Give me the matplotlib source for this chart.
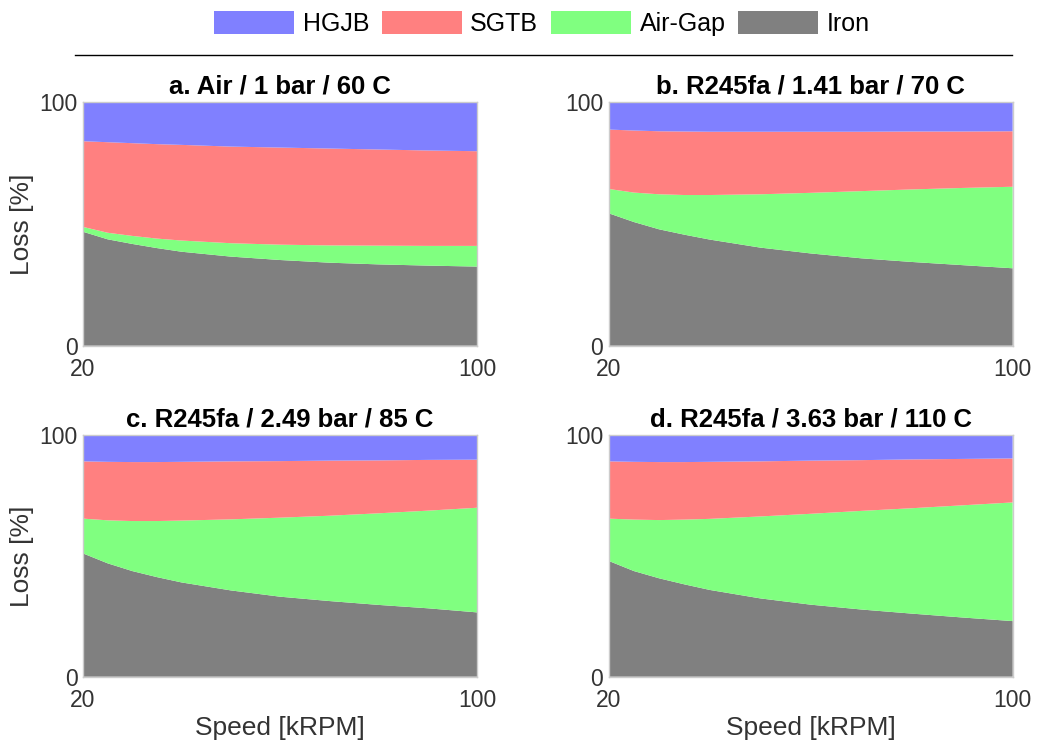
import matplotlib
matplotlib.use("Agg")
import matplotlib.pyplot as plt
from matplotlib.patches import Patch
from matplotlib.lines import Line2D

plt.rcParams['font.family'] = ['Liberation Sans', 'DejaVu Sans']

# speed points [kRPM]
speed = [20, 25, 30, 35, 40, 50, 60, 70, 80, 90, 100]

labels = ['HGJB', 'SGTB', 'Air-Gap', 'Iron']
colors = ['#8080ff', '#ff8080', '#80ff80', '#808080']

titles = ['a. Air / 1 bar / 60 C',
          'b. R245fa / 1.41 bar / 70 C',
          'c. R245fa / 2.49 bar / 85 C',
          'd. R245fa / 3.63 bar / 110 C']

# loss shares [%] per case
iron_a = [46.8, 43.7, 41.8, 40.1, 38.6, 36.6, 35.2, 34.1, 33.4, 32.9, 32.5]
gap_a = [2.0, 2.7, 3.3, 3.9, 4.6, 5.5, 6.3, 7.1, 7.7, 8.1, 8.5]
sgtb_a = [35.2, 37.2, 38.1, 38.8, 39.3, 39.7, 39.9, 39.8, 39.5, 39.2, 38.9]
hgjb_a = [16.0, 16.4, 16.8, 17.2, 17.5, 18.2, 18.6, 19.0, 19.4, 19.8, 20.1]

iron_b = [54.4, 50.8, 47.8, 45.6, 43.6, 40.3, 37.9, 35.9, 34.4, 33.1, 31.8]
gap_b = [10.0, 12.1, 14.4, 16.3, 18.3, 21.9, 24.9, 27.6, 29.8, 31.7, 33.5]
sgtb_b = [24.4, 25.5, 25.9, 26.1, 26.0, 25.7, 25.1, 24.4, 23.8, 23.2, 22.8]
hgjb_b = [11.2, 11.6, 11.9, 12.0, 12.1, 12.1, 12.1, 12.1, 12.0, 12.0, 11.9]

iron_c = [51.0, 46.9, 43.7, 41.2, 39.0, 35.7, 33.1, 31.3, 29.7, 28.3, 26.6]
gap_c = [14.4, 17.8, 20.7, 23.2, 25.6, 29.4, 32.7, 35.3, 37.9, 40.4, 43.3]
sgtb_c = [23.7, 24.2, 24.4, 24.4, 24.3, 24.0, 23.4, 22.8, 21.9, 21.0, 19.9]
hgjb_c = [10.9, 11.1, 11.2, 11.2, 11.1, 10.9, 10.8, 10.6, 10.5, 10.3, 10.2]

iron_d = [47.9, 43.7, 40.7, 38.2, 35.9, 32.4, 29.8, 27.8, 26.1, 24.5, 23.0]
gap_d = [17.5, 21.3, 24.1, 26.8, 29.4, 33.9, 37.6, 40.8, 43.6, 46.4, 49.1]
sgtb_d = [23.7, 23.9, 24.0, 23.8, 23.6, 22.8, 22.0, 21.0, 20.2, 19.2, 18.2]
hgjb_d = [10.9, 11.1, 11.2, 11.2, 11.1, 10.9, 10.6, 10.4, 10.1, 9.9, 9.7]

cases = [(iron_a, gap_a, sgtb_a, hgjb_a),
         (iron_b, gap_b, sgtb_b, hgjb_b),
         (iron_c, gap_c, sgtb_c, hgjb_c),
         (iron_d, gap_d, sgtb_d, hgjb_d)]

# axes boxes [left, bottom, width, height] in figure fraction
boxes = [[0.0800, 0.5360, 0.3796, 0.3267],
         [0.5864, 0.5360, 0.3892, 0.3267],
         [0.0800, 0.0917, 0.3796, 0.3244],
         [0.5864, 0.0917, 0.3892, 0.3244]]

fig = plt.figure(figsize=(10.38, 7.45), dpi=100)

for i, (case, box) in enumerate(zip(cases, boxes)):
    ax = fig.add_axes(box)
    iron, gap, sgtb, hgjb = case
    ax.stackplot(speed, iron, gap, sgtb, hgjb,
                 colors=colors[::-1], linewidth=0)
    ax.set_xlim(20, 100)
    ax.set_ylim(0, 100)
    ax.set_xticks([20, 100])
    ax.set_yticks([0, 100])
    ax.tick_params(length=0, labelsize=16.5, labelcolor='#333333')
    ax.tick_params(axis='x', pad=9)
    ax.tick_params(axis='y', pad=4)
    for s in ax.spines.values():
        s.set_color('#cccccc')
        s.set_linewidth(1)
    ax.set_title(titles[i], fontsize=18.5, fontweight='bold', pad=6)
    if i % 2 == 0:
        ax.set_ylabel('Loss [%]', fontsize=19, color='#333333', labelpad=4)
    if i >= 2:
        ax.set_xlabel('Speed [kRPM]', fontsize=19, color='#333333', labelpad=3)

handles = [Patch(facecolor=c, edgecolor='none') for c in colors]
fig.legend(handles, labels, loc='upper center', bbox_to_anchor=(0.522, 1.016),
           ncol=4, frameon=False, fontsize=18, handlelength=3.2,
           handleheight=1.05, handletextpad=0.35, columnspacing=0.5)

fig.add_artist(Line2D([0.0723, 0.975], [0.9258, 0.9258], color='black', linewidth=1))

fig.savefig('out.png', dpi=100)
